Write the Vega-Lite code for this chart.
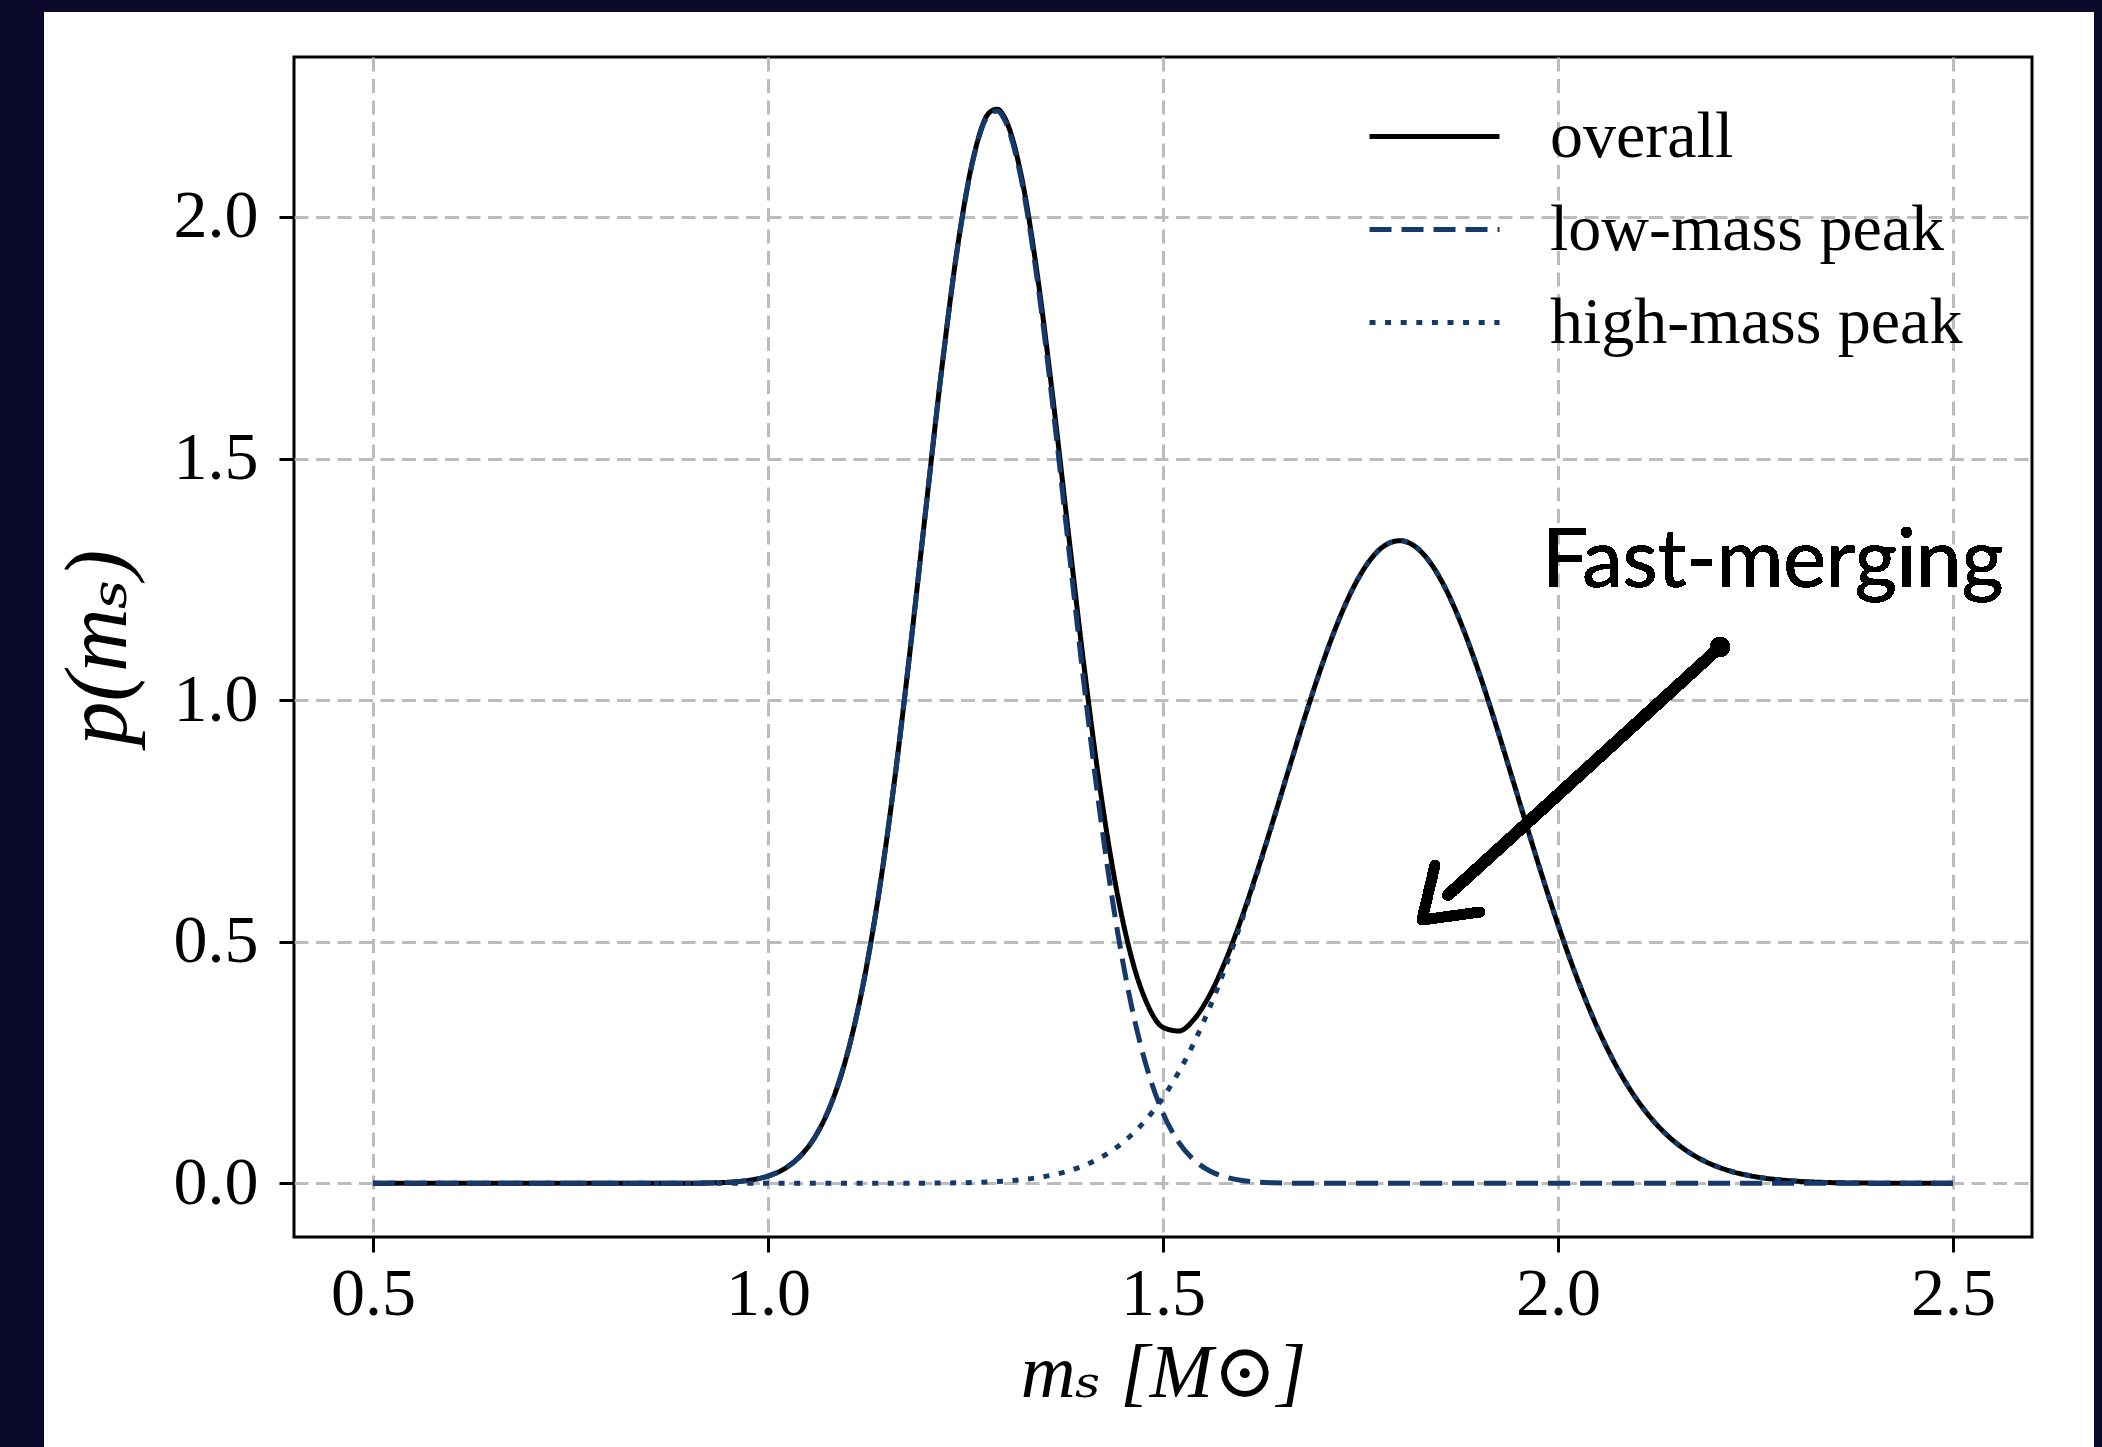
{
  "$schema": "https://vega.github.io/schema/vega-lite/v6.json",
  "width": 1738,
  "height": 1180,
  "autosize": "none",
  "padding": {"left": 294, "top": 57, "right": 70, "bottom": 210},
  "background": "white",
  "config": {
    "view": {"stroke": "black", "strokeWidth": 3},
    "axis": {
      "grid": true,
      "gridColor": "#bcbcbc",
      "gridDash": [14, 7.5],
      "gridWidth": 3,
      "domain": false,
      "tickColor": "black",
      "tickWidth": 3,
      "tickSize": 15,
      "labelFont": "Liberation Serif",
      "labelFontSize": 68,
      "labelColor": "black",
      "titleFont": "Liberation Serif, DejaVu Serif",
      "titleFontSize": 76,
      "titleFontStyle": "italic",
      "titleFontWeight": "normal",
      "titleColor": "black"
    },
    "legend": {
      "orient": "none",
      "legendX": 1073,
      "legendY": 33,
      "padding": 0,
      "symbolType": "stroke",
      "symbolSize": 16900,
      "symbolStrokeWidth": 5,
      "labelFont": "Liberation Serif",
      "labelFontSize": 66,
      "labelColor": "black",
      "labelOffset": 48,
      "labelLimit": 0,
      "clipHeight": 93,
      "rowPadding": 0,
      "title": null
    }
  },
  "data": {
    "values": [
      {"m":0.5,"p":0,"series":"overall"},{"m":0.6,"p":0,"series":"overall"},{"m":0.7,"p":0,"series":"overall"},{"m":0.8,"p":0,"series":"overall"},{"m":0.85,"p":0,"series":"overall"},{"m":0.9,"p":0.0003,"series":"overall"},{"m":0.92,"p":0.0006,"series":"overall"},{"m":0.94,"p":0.0015,"series":"overall"},{"m":0.96,"p":0.0034,"series":"overall"},{"m":0.98,"p":0.0074,"series":"overall"},{"m":1.0,"p":0.0151,"series":"overall"},{"m":1.02,"p":0.0295,"series":"overall"},{"m":1.04,"p":0.055,"series":"overall"},{"m":1.06,"p":0.0975,"series":"overall"},{"m":1.08,"p":0.1649,"series":"overall"},{"m":1.1,"p":0.2657,"series":"overall"},{"m":1.12,"p":0.408,"series":"overall"},{"m":1.14,"p":0.5968,"series":"overall"},{"m":1.16,"p":0.8319,"series":"overall"},{"m":1.18,"p":1.1049,"series":"overall"},{"m":1.2,"p":1.3987,"series":"overall"},{"m":1.22,"p":1.6868,"series":"overall"},{"m":1.24,"p":1.9385,"series":"overall"},{"m":1.26,"p":2.1228,"series":"overall"},{"m":1.28,"p":2.2156,"series":"overall"},{"m":1.29,"p":2.2231,"series":"overall"},{"m":1.3,"p":2.2041,"series":"overall"},{"m":1.32,"p":2.0904,"series":"overall"},{"m":1.34,"p":1.8913,"series":"overall"},{"m":1.36,"p":1.6336,"series":"overall"},{"m":1.38,"p":1.3498,"series":"overall"},{"m":1.4,"p":1.0708,"series":"overall"},{"m":1.42,"p":0.8214,"series":"overall"},{"m":1.44,"p":0.6181,"series":"overall"},{"m":1.46,"p":0.4682,"series":"overall"},{"m":1.48,"p":0.3714,"series":"overall"},{"m":1.5,"p":0.3229,"series":"overall"},{"m":1.52,"p":0.3153,"series":"overall"},{"m":1.54,"p":0.3409,"series":"overall"},{"m":1.56,"p":0.3925,"series":"overall"},{"m":1.58,"p":0.4643,"series":"overall"},{"m":1.6,"p":0.5513,"series":"overall"},{"m":1.62,"p":0.6491,"series":"overall"},{"m":1.64,"p":0.7538,"series":"overall"},{"m":1.66,"p":0.8612,"series":"overall"},{"m":1.68,"p":0.967,"series":"overall"},{"m":1.7,"p":1.0667,"series":"overall"},{"m":1.72,"p":1.1556,"series":"overall"},{"m":1.74,"p":1.2297,"series":"overall"},{"m":1.76,"p":1.2852,"series":"overall"},{"m":1.78,"p":1.3192,"series":"overall"},{"m":1.8,"p":1.33,"series":"overall"},{"m":1.82,"p":1.3169,"series":"overall"},{"m":1.84,"p":1.2806,"series":"overall"},{"m":1.86,"p":1.2231,"series":"overall"},{"m":1.88,"p":1.1473,"series":"overall"},{"m":1.9,"p":1.057,"series":"overall"},{"m":1.92,"p":0.9564,"series":"overall"},{"m":1.94,"p":0.85,"series":"overall"},{"m":1.96,"p":0.7419,"series":"overall"},{"m":1.98,"p":0.6359,"series":"overall"},{"m":2.0,"p":0.5354,"series":"overall"},{"m":2.02,"p":0.4427,"series":"overall"},{"m":2.04,"p":0.3596,"series":"overall"},{"m":2.06,"p":0.2868,"series":"overall"},{"m":2.08,"p":0.2247,"series":"overall"},{"m":2.1,"p":0.1729,"series":"overall"},{"m":2.12,"p":0.1306,"series":"overall"},{"m":2.14,"p":0.0969,"series":"overall"},{"m":2.16,"p":0.0707,"series":"overall"},{"m":2.18,"p":0.0506,"series":"overall"},{"m":2.2,"p":0.0356,"series":"overall"},{"m":2.22,"p":0.0246,"series":"overall"},{"m":2.24,"p":0.0167,"series":"overall"},{"m":2.26,"p":0.0111,"series":"overall"},{"m":2.28,"p":0.0073,"series":"overall"},{"m":2.3,"p":0.0047,"series":"overall"},{"m":2.32,"p":0.0029,"series":"overall"},{"m":2.34,"p":0.0018,"series":"overall"},{"m":2.36,"p":0.0011,"series":"overall"},{"m":2.38,"p":0.0007,"series":"overall"},{"m":2.4,"p":0.0004,"series":"overall"},{"m":2.45,"p":0.0001,"series":"overall"},{"m":2.5,"p":0,"series":"overall"},

      {"m":0.5,"p":0,"series":"low-mass peak"},{"m":0.6,"p":0,"series":"low-mass peak"},{"m":0.7,"p":0,"series":"low-mass peak"},{"m":0.8,"p":0,"series":"low-mass peak"},{"m":0.85,"p":0,"series":"low-mass peak"},{"m":0.9,"p":0.0003,"series":"low-mass peak"},{"m":0.92,"p":0.0006,"series":"low-mass peak"},{"m":0.94,"p":0.0015,"series":"low-mass peak"},{"m":0.96,"p":0.0034,"series":"low-mass peak"},{"m":0.98,"p":0.0074,"series":"low-mass peak"},{"m":1.0,"p":0.0151,"series":"low-mass peak"},{"m":1.02,"p":0.0295,"series":"low-mass peak"},{"m":1.04,"p":0.055,"series":"low-mass peak"},{"m":1.06,"p":0.0975,"series":"low-mass peak"},{"m":1.08,"p":0.1649,"series":"low-mass peak"},{"m":1.1,"p":0.2657,"series":"low-mass peak"},{"m":1.12,"p":0.408,"series":"low-mass peak"},{"m":1.14,"p":0.5968,"series":"low-mass peak"},{"m":1.16,"p":0.8319,"series":"low-mass peak"},{"m":1.18,"p":1.1049,"series":"low-mass peak"},{"m":1.2,"p":1.3983,"series":"low-mass peak"},{"m":1.22,"p":1.6861,"series":"low-mass peak"},{"m":1.24,"p":1.9373,"series":"low-mass peak"},{"m":1.26,"p":2.1209,"series":"low-mass peak"},{"m":1.28,"p":2.2125,"series":"low-mass peak"},{"m":1.29,"p":2.2192,"series":"low-mass peak"},{"m":1.3,"p":2.1992,"series":"low-mass peak"},{"m":1.32,"p":2.0828,"series":"low-mass peak"},{"m":1.34,"p":1.8797,"series":"low-mass peak"},{"m":1.36,"p":1.6163,"series":"low-mass peak"},{"m":1.38,"p":1.3243,"series":"low-mass peak"},{"m":1.4,"p":1.0339,"series":"low-mass peak"},{"m":1.42,"p":0.7691,"series":"low-mass peak"},{"m":1.44,"p":0.5451,"series":"low-mass peak"},{"m":1.46,"p":0.3682,"series":"low-mass peak"},{"m":1.48,"p":0.237,"series":"low-mass peak"},{"m":1.5,"p":0.1453,"series":"low-mass peak"},{"m":1.52,"p":0.0849,"series":"low-mass peak"},{"m":1.54,"p":0.0473,"series":"low-mass peak"},{"m":1.56,"p":0.0251,"series":"low-mass peak"},{"m":1.58,"p":0.0127,"series":"low-mass peak"},{"m":1.6,"p":0.0061,"series":"low-mass peak"},{"m":1.62,"p":0.0028,"series":"low-mass peak"},{"m":1.64,"p":0.0012,"series":"low-mass peak"},{"m":1.66,"p":0.0005,"series":"low-mass peak"},{"m":1.68,"p":0.0002,"series":"low-mass peak"},{"m":1.7,"p":0.0001,"series":"low-mass peak"},{"m":1.75,"p":0,"series":"low-mass peak"},{"m":1.8,"p":0,"series":"low-mass peak"},{"m":1.9,"p":0,"series":"low-mass peak"},{"m":2.0,"p":0,"series":"low-mass peak"},{"m":2.1,"p":0,"series":"low-mass peak"},{"m":2.2,"p":0,"series":"low-mass peak"},{"m":2.3,"p":0,"series":"low-mass peak"},{"m":2.4,"p":0,"series":"low-mass peak"},{"m":2.5,"p":0,"series":"low-mass peak"},

      {"m":0.5,"p":0,"series":"high-mass peak"},{"m":0.6,"p":0,"series":"high-mass peak"},{"m":0.7,"p":0,"series":"high-mass peak"},{"m":0.8,"p":0,"series":"high-mass peak"},{"m":0.9,"p":0,"series":"high-mass peak"},{"m":1.0,"p":0,"series":"high-mass peak"},{"m":1.1,"p":0,"series":"high-mass peak"},{"m":1.15,"p":0.0001,"series":"high-mass peak"},{"m":1.2,"p":0.0004,"series":"high-mass peak"},{"m":1.22,"p":0.0007,"series":"high-mass peak"},{"m":1.24,"p":0.0012,"series":"high-mass peak"},{"m":1.26,"p":0.0019,"series":"high-mass peak"},{"m":1.28,"p":0.0031,"series":"high-mass peak"},{"m":1.3,"p":0.0049,"series":"high-mass peak"},{"m":1.32,"p":0.0076,"series":"high-mass peak"},{"m":1.34,"p":0.0116,"series":"high-mass peak"},{"m":1.36,"p":0.0173,"series":"high-mass peak"},{"m":1.38,"p":0.0255,"series":"high-mass peak"},{"m":1.4,"p":0.0369,"series":"high-mass peak"},{"m":1.42,"p":0.0523,"series":"high-mass peak"},{"m":1.44,"p":0.073,"series":"high-mass peak"},{"m":1.46,"p":0.1,"series":"high-mass peak"},{"m":1.48,"p":0.1344,"series":"high-mass peak"},{"m":1.5,"p":0.1776,"series":"high-mass peak"},{"m":1.52,"p":0.2304,"series":"high-mass peak"},{"m":1.54,"p":0.2936,"series":"high-mass peak"},{"m":1.56,"p":0.3674,"series":"high-mass peak"},{"m":1.58,"p":0.4516,"series":"high-mass peak"},{"m":1.6,"p":0.5452,"series":"high-mass peak"},{"m":1.62,"p":0.6463,"series":"high-mass peak"},{"m":1.64,"p":0.7526,"series":"high-mass peak"},{"m":1.66,"p":0.8607,"series":"high-mass peak"},{"m":1.68,"p":0.9668,"series":"high-mass peak"},{"m":1.7,"p":1.0666,"series":"high-mass peak"},{"m":1.72,"p":1.1556,"series":"high-mass peak"},{"m":1.74,"p":1.2297,"series":"high-mass peak"},{"m":1.76,"p":1.2852,"series":"high-mass peak"},{"m":1.78,"p":1.3192,"series":"high-mass peak"},{"m":1.8,"p":1.33,"series":"high-mass peak"},{"m":1.82,"p":1.3169,"series":"high-mass peak"},{"m":1.84,"p":1.2806,"series":"high-mass peak"},{"m":1.86,"p":1.2231,"series":"high-mass peak"},{"m":1.88,"p":1.1473,"series":"high-mass peak"},{"m":1.9,"p":1.057,"series":"high-mass peak"},{"m":1.92,"p":0.9564,"series":"high-mass peak"},{"m":1.94,"p":0.85,"series":"high-mass peak"},{"m":1.96,"p":0.7419,"series":"high-mass peak"},{"m":1.98,"p":0.6359,"series":"high-mass peak"},{"m":2.0,"p":0.5354,"series":"high-mass peak"},{"m":2.02,"p":0.4427,"series":"high-mass peak"},{"m":2.04,"p":0.3596,"series":"high-mass peak"},{"m":2.06,"p":0.2868,"series":"high-mass peak"},{"m":2.08,"p":0.2247,"series":"high-mass peak"},{"m":2.1,"p":0.1729,"series":"high-mass peak"},{"m":2.12,"p":0.1306,"series":"high-mass peak"},{"m":2.14,"p":0.0969,"series":"high-mass peak"},{"m":2.16,"p":0.0707,"series":"high-mass peak"},{"m":2.18,"p":0.0506,"series":"high-mass peak"},{"m":2.2,"p":0.0356,"series":"high-mass peak"},{"m":2.22,"p":0.0246,"series":"high-mass peak"},{"m":2.24,"p":0.0167,"series":"high-mass peak"},{"m":2.26,"p":0.0111,"series":"high-mass peak"},{"m":2.28,"p":0.0073,"series":"high-mass peak"},{"m":2.3,"p":0.0047,"series":"high-mass peak"},{"m":2.32,"p":0.0029,"series":"high-mass peak"},{"m":2.34,"p":0.0018,"series":"high-mass peak"},{"m":2.36,"p":0.0011,"series":"high-mass peak"},{"m":2.38,"p":0.0007,"series":"high-mass peak"},{"m":2.4,"p":0.0004,"series":"high-mass peak"},{"m":2.45,"p":0.0001,"series":"high-mass peak"},{"m":2.5,"p":0,"series":"high-mass peak"}
    ]
  },
  "layer": [
    {
      "transform": [{"filter": "datum.series === 'overall'"}],
      "mark": {"type": "line", "interpolate": "monotone", "strokeWidth": 5},
      "encoding": {
        "x": {"field": "m", "type": "quantitative", "scale": {"domain": [0.4, 2.6], "nice": false, "zero": false},
              "axis": {"title": "mₛ [M⊙]", "values": [0.5, 1.0, 1.5, 2.0, 2.5], "format": ".1f", "labelPadding": 8, "titlePadding": 8, "labelFlush": false}},
        "y": {"field": "p", "type": "quantitative", "scale": {"domain": [-0.111, 2.331], "nice": false, "zero": false},
              "axis": {"title": "p(mₛ)", "values": [0, 0.5, 1.0, 1.5, 2.0], "format": ".1f", "labelPadding": 21, "titlePadding": 30, "titleFontSize": 88}},
        "color": {"field": "series", "type": "nominal", "scale": {"domain": ["overall", "low-mass peak", "high-mass peak"], "range": ["black", "#16396b", "#16396b"]}},
        "strokeDash": {"field": "series", "type": "nominal", "scale": {"domain": ["overall", "low-mass peak", "high-mass peak"], "range": [[1, 0], [22, 10], [6, 9.6]]}}
      }
    },
    {
      "transform": [{"filter": "datum.series !== 'overall'"}],
      "mark": {"type": "line", "interpolate": "monotone", "strokeWidth": 5},
      "encoding": {
        "x": {"field": "m", "type": "quantitative", "scale": {"domain": [0.4, 2.6], "nice": false, "zero": false}},
        "y": {"field": "p", "type": "quantitative", "scale": {"domain": [-0.111, 2.331], "nice": false, "zero": false}},
        "color": {"field": "series", "type": "nominal", "scale": {"domain": ["overall", "low-mass peak", "high-mass peak"], "range": ["black", "#16396b", "#16396b"]}},
        "strokeDash": {"field": "series", "type": "nominal", "scale": {"domain": ["overall", "low-mass peak", "high-mass peak"], "range": [[1, 0], [22, 10], [6, 9.6]]}}
      }
    },
    {
      "mark": {"type": "rect", "color": "#0b0a2c"},
      "encoding": {
        "x": {"datum": -0.3, "type": "quantitative", "scale": {"domain": [0.4, 2.6], "nice": false, "zero": false}},
        "x2": {"datum": 0.0823},
        "y": {"datum": -1.0, "type": "quantitative", "scale": {"domain": [-0.111, 2.331], "nice": false, "zero": false}},
        "y2": {"datum": 3.0}
      }
    },
    {
      "mark": {"type": "rect", "color": "#0b0a2c"},
      "encoding": {
        "x": {"datum": -0.3, "type": "quantitative", "scale": {"domain": [0.4, 2.6], "nice": false, "zero": false}},
        "x2": {"datum": 3.0},
        "y": {"datum": 2.424, "type": "quantitative", "scale": {"domain": [-0.111, 2.331], "nice": false, "zero": false}},
        "y2": {"datum": 3.0}
      }
    },
    {
      "mark": {"type": "rect", "color": "#0b0a2c"},
      "encoding": {
        "x": {"datum": 2.6785, "type": "quantitative", "scale": {"domain": [0.4, 2.6], "nice": false, "zero": false}},
        "x2": {"datum": 3.0},
        "y": {"datum": -1.0, "type": "quantitative", "scale": {"domain": [-0.111, 2.331], "nice": false, "zero": false}},
        "y2": {"datum": 3.0}
      }
    },
    {
      "mark": {"type": "text", "text": "Fast-merging", "font": "Lato", "fontSize": 81, "fontWeight": "normal", "align": "left", "baseline": "alphabetic", "color": "black"},
      "encoding": {
        "x": {"datum": 1.98, "type": "quantitative", "scale": {"domain": [0.4, 2.6], "nice": false, "zero": false}},
        "y": {"datum": 1.234, "type": "quantitative", "scale": {"domain": [-0.111, 2.331], "nice": false, "zero": false}}
      }
    },
    {
      "mark": {"type": "rule", "color": "black", "strokeWidth": 11, "strokeCap": "round"},
      "encoding": {
        "x": {"datum": 2.2051, "type": "quantitative", "scale": {"domain": [0.4, 2.6], "nice": false, "zero": false}},
        "y": {"datum": 1.11, "type": "quantitative", "scale": {"domain": [-0.111, 2.331], "nice": false, "zero": false}},
        "x2": {"datum": 1.8608},
        "y2": {"datum": 0.5967}
      }
    },
    {
      "mark": {"type": "rule", "color": "black", "strokeWidth": 10, "strokeCap": "round"},
      "encoding": {
        "x": {"datum": 1.8278, "type": "quantitative", "scale": {"domain": [0.4, 2.6], "nice": false, "zero": false}},
        "y": {"datum": 0.545, "type": "quantitative", "scale": {"domain": [-0.111, 2.331], "nice": false, "zero": false}},
        "x2": {"datum": 1.8443},
        "y2": {"datum": 0.6588}
      }
    },
    {
      "mark": {"type": "rule", "color": "black", "strokeWidth": 10, "strokeCap": "round"},
      "encoding": {
        "x": {"datum": 1.8278, "type": "quantitative", "scale": {"domain": [0.4, 2.6], "nice": false, "zero": false}},
        "y": {"datum": 0.545, "type": "quantitative", "scale": {"domain": [-0.111, 2.331], "nice": false, "zero": false}},
        "x2": {"datum": 1.9013},
        "y2": {"datum": 0.5616}
      }
    },
    {
      "mark": {"type": "point", "filled": true, "color": "black", "size": 380, "opacity": 1},
      "encoding": {
        "x": {"datum": 2.2051, "type": "quantitative", "scale": {"domain": [0.4, 2.6], "nice": false, "zero": false}},
        "y": {"datum": 1.11, "type": "quantitative", "scale": {"domain": [-0.111, 2.331], "nice": false, "zero": false}}
      }
    }
  ]
}
